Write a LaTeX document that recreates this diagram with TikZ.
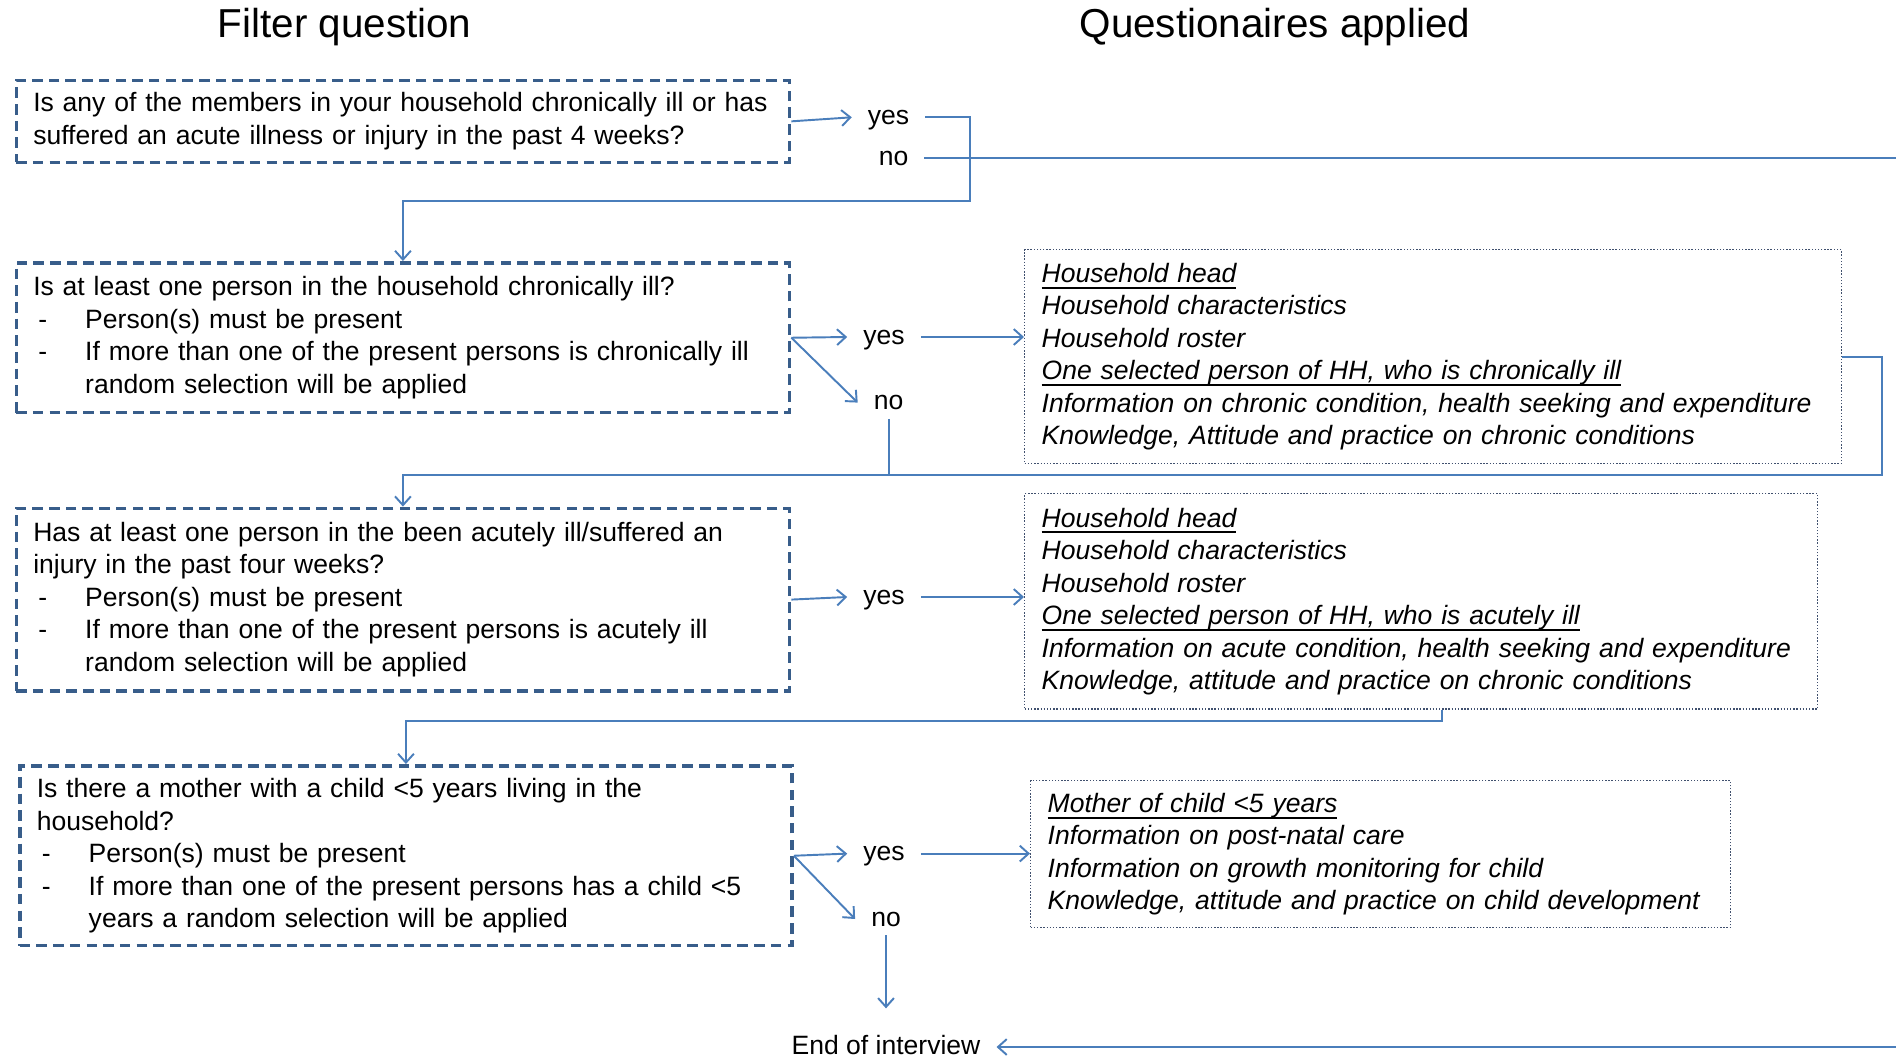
\documentclass[tikz,border=0pt]{standalone}
\usepackage{fontspec}
\setmainfont{Liberation Sans}
\usetikzlibrary{arrows.meta}
\definecolor{boxblue}{RGB}{56,93,138}
\definecolor{lineblue}{RGB}{74,126,187}
\definecolor{dotblue}{RGB}{64,80,110}
\newcommand{\hyitem}[1]{\makebox[1.04cm][l]{\hspace{0.1cm}-}\mbox{#1}}
\newcommand{\hyrest}[1]{\hspace*{1.04cm}\mbox{#1}}
\newcommand{\uln}[1]{\leavevmode\setbox0\hbox{#1}\rlap{\rule[-3.6pt]{\wd0}{1.1pt}}\box0}
\begin{document}
\begin{tikzpicture}[x=0.02cm, y=-0.02cm,
    font=\fontsize{15.1}{18.5}\selectfont,
    filter/.style={draw=boxblue, line width=2pt, dash pattern=on 6pt off 3.5pt, anchor=north west, align=left, inner xsep=0.34cm, inner ysep=0pt},
    quest/.style={draw=dotblue, densely dotted, line width=0.8pt, anchor=north west, align=left, inner xsep=0.34cm, inner ysep=0pt, font=\fontsize{15.1}{18.5}\selectfont\itshape},
    lbl/.style={inner xsep=9pt, inner ysep=2pt, text height=11pt, text depth=3pt},
    link/.style={draw=lineblue, line width=1.1pt},
    arr/.style={link, -{Straight Barb[length=5pt,width=9pt]}}]
	\useasboundingbox (0,0) rectangle (1896,1060);
	\node[anchor=base, font=\fontsize{23}{27}\selectfont] (t1) at (344.6,38) {Filter question};
	\node[anchor=base, font=\fontsize{23}{27}\selectfont] (t2) at (1275,38) {Questionaires applied};
	\node[filter, text width=14.79cm, minimum height=1.64cm] (q1) at (14.5,78.6) {\mbox{Is any of the members in your household chronically ill or has}\\ \mbox{suffered an acute illness or injury in the past 4 weeks?}};
	\node[filter, text width=14.79cm, minimum height=3.0cm] (q2) at (14.5,261) {\mbox{Is at least one person in the household chronically ill?}\\ \hyitem{Person(s) must be present}\\ \hyitem{If more than one of the present persons is chronically ill}\\ \hyrest{random selection will be applied}};
	\node[filter, text width=14.79cm, minimum height=3.65cm] (q3) at (14.5,506.6) {\mbox{Has at least one person in the been acutely ill/suffered an}\\ \mbox{injury in the past four weeks?}\\ \hyitem{Person(s) must be present}\\ \hyitem{If more than one of the present persons is acutely ill}\\ \hyrest{random selection will be applied}};
	\node[filter, text width=14.77cm, minimum height=3.6cm] (q4) at (18,764) {\mbox{Is there a mother with a child <5 years living in the}\\ household?\\ \hyitem{Person(s) must be present}\\ \hyitem{If more than one of the present persons has a child <5}\\ \hyrest{years a random selection will be applied}};
	\node[quest, text width=15.66cm, minimum height=4.28cm] (h1) at (1024,249) {\uln{Household head}\\ Household characteristics\\ Household roster\\ \uln{One selected person of HH, who is chronically ill}\\ \mbox{Information on chronic condition, health seeking and expenditure}\\ \mbox{Knowledge, Attitude and practice on chronic conditions}};
	\node[quest, text width=15.18cm, minimum height=4.31cm] (h2) at (1024,493) {\uln{Household head}\\ Household characteristics\\ Household roster\\ \uln{One selected person of HH, who is acutely ill}\\ \mbox{Information on acute condition, health seeking and expenditure}\\ \mbox{Knowledge, attitude and practice on chronic conditions}};
	\node[quest, text width=13.32cm, minimum height=2.94cm] (h3) at (1030,780) {\uln{Mother of child <5 years}\\ Information on post-natal care\\ \mbox{Information on growth monitoring for child}\\ \mbox{Knowledge, attitude and practice on child development}};
	\node[lbl] (yes1) at (888.6,117.3) {yes};
	\node[lbl] (no1) at (893.5,158.4) {no};
	\node[lbl] (yes2) at (884,337) {yes};
	\node[lbl] (no2) at (888.6,402.6) {no};
	\node[lbl] (yes3) at (884,597) {yes};
	\node[lbl] (yes4) at (884,853.6) {yes};
	\node[lbl] (no4) at (886,919) {no};
	\node[lbl] (end) at (886,1047) {End of interview};
	\coordinate (j1) at (969.6,200.7);
	\coordinate (j2) at (1882.4,475);
	\coordinate (j3) at (1442.4,720.6);
	\coordinate (e1) at (1896,158.4);
	\coordinate (e2) at (1896,1047);
	\draw[arr] (q1.east) -- (yes1.west);
	\draw[arr] (yes1.east) -| (j1) -| (q2.north);
	\draw[link] (no1.east) -- (e1);
	\draw[arr] (q2.east) -- (yes2.west);
	\draw[arr] (q2.east) -- (no2.west);
	\draw[arr] (yes2.east) -- (yes2.east -| h1.west);
	\draw[arr] (h1.east) -| (j2) -| (q3.north);
	\draw[link] (no2.south) -- (no2.south |- j2);
	\draw[arr] (q3.east) -- (yes3.west);
	\draw[arr] (yes3.east) -- (yes3.east -| h2.west);
	\draw[arr] (h2.south -| j3) -- (j3) -| (q4.north);
	\draw[arr] (q4.east) -- (yes4.west);
	\draw[arr] (q4.east) -- (no4.west);
	\draw[arr] (yes4.east) -- (yes4.east -| h3.west);
	\draw[arr, shorten >=0.45cm] (no4.south) -- (end.north);
	\draw[arr] (e2) -- (end.east);
\end{tikzpicture}
\end{document}
